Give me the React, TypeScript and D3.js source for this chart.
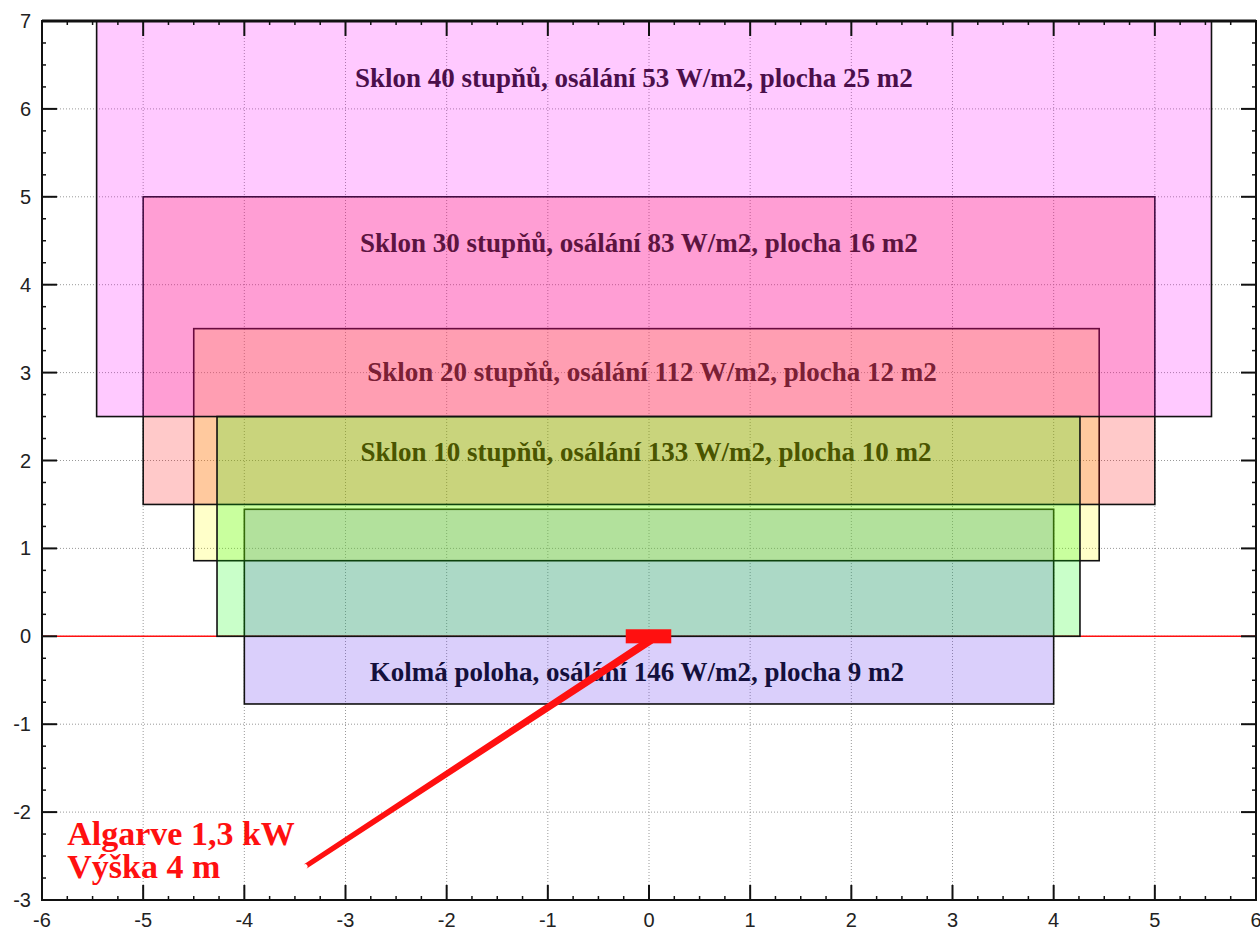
import React from "react";
import * as d3 from "d3";

// ---- data ----
const labels = [
  "Sklon 40 stupňů, osálání 53 W/m2, plocha 25 m2",
  "Sklon 30 stupňů, osálání 83 W/m2, plocha 16 m2",
  "Sklon 20 stupňů, osálání 112 W/m2, plocha 12 m2",
  "Sklon 10 stupňů, osálání 133 W/m2, plocha 10 m2",
  "Kolmá poloha, osálání 146 W/m2, plocha 9 m2",
];
const xMin = [-5.46, -5, -4.5, -4.27, -4];
const xMax = [5.56, 5, 4.45, 4.26, 4];
const yMin = [2.5, 1.5, 0.86, 0, -0.77];
const yMax = [7, 5, 3.5, 2.5, 1.445];
const labelX = [-0.15, -0.1, 0.03, -0.03, -0.12];
const labelY = [6.25, 4.37, 2.91, 1.99, -0.51];
const drawOrder = [4, 2, 1, 0, 3];

const xTicks = [-6, -5, -4, -3, -2, -1, 0, 1, 2, 3, 4, 5, 6];
const yTicks = [-3, -2, -1, 0, 1, 2, 3, 4, 5, 6, 7];

const markerX = [-0.23, 0.22];
const markerY = [-0.08, 0.08];
const arrowFrom = [0.02, -0.04];
const arrowTo = [-3.4, -2.62];
const noteLines = ["Algarve 1,3 kW", "Výška 4 m"];
const noteX = -5.75;
const noteY = [-2.374, -2.75];

// ---- styles ----
const fills = ["#ff00ff", "#ff0000", "#ffff00", "#00ff00", "#6a40f0"];
const fillOpacity = [0.21, 0.21, 0.21, 0.21, 0.25];
const textColors = ["#4b0f4b", "#5c1440", "#7a2035", "#4a5500", "#14103c"];

export default function App() {
  const W = 1260;
  const H = 929;
  const x = d3.scaleLinear().domain([-6, 6]).range([42, 1256]);
  const y = d3.scaleLinear().domain([-3, 7]).range([900, 21]);
  const [x0, x1] = x.range();
  const [y0, y1] = y.range();

  const minorX = d3.range(-6, 6.001, 0.25).filter((v) => Math.abs(v - Math.round(v)) > 1e-6);
  const minorY = d3.range(-3, 7.001, 0.25).filter((v) => Math.abs(v - Math.round(v)) > 1e-6);

  const major = 15;
  const minor = 4;

  const ax = x(arrowFrom[0]);
  const ay = y(arrowFrom[1]);
  const bx = x(arrowTo[0]);
  const by = y(arrowTo[1]);
  const len = Math.hypot(bx - ax, by - ay);
  const nx = -(by - ay) / len;
  const ny = (bx - ax) / len;
  const w0 = 4;
  const w1 = 2.5;
  const arrowPath = d3.path();
  arrowPath.moveTo(ax + nx * w0, ay + ny * w0);
  arrowPath.lineTo(bx + nx * w1, by + ny * w1);
  arrowPath.arc(bx, by, w1, Math.atan2(ny, nx), Math.atan2(-ny, -nx), false);
  arrowPath.lineTo(ax - nx * w0, ay - ny * w0);
  arrowPath.closePath();

  return (
    <svg
      width={W}
      height={H}
      style={{ position: "absolute", left: 0, top: 0, background: "#fff" }}
      fontFamily="'Liberation Sans', Arial, sans-serif"
    >
      <rect x={0} y={0} width={W} height={H} fill="#fff" />
      {/* grid */}
      <g stroke="#999" strokeWidth={1} strokeDasharray="1,2">
        {xTicks.slice(1, -1).map((t) => (
          <line key={"gx" + t} x1={x(t)} x2={x(t)} y1={y0} y2={y1} />
        ))}
        {yTicks.slice(1, -1).map((t) => (
          <line key={"gy" + t} x1={x0} x2={x1} y1={y(t)} y2={y(t)} />
        ))}
      </g>
      {/* zero line */}
      <line x1={x0} x2={x1} y1={y(0)} y2={y(0)} stroke="#ff1010" strokeWidth={1.5} />
      {/* rectangles */}
      {drawOrder.map((i) => (
        <rect
          key={"r" + i}
          x={x(xMin[i])}
          y={y(yMax[i])}
          width={x(xMax[i]) - x(xMin[i])}
          height={y(yMin[i]) - y(yMax[i])}
          fill={fills[i]}
          fillOpacity={fillOpacity[i]}
          stroke="#111"
          strokeWidth={1.6}
        />
      ))}
      {/* labels */}
      {labels.map((l, i) => (
        <text
          key={"l" + i}
          x={x(labelX[i])}
          y={y(labelY[i])}
          textAnchor="middle"
          fontFamily="'Liberation Serif', 'Times New Roman', serif"
          fontWeight="bold"
          fontSize={27}
          fill={textColors[i]}
        >
          {l}
        </text>
      ))}
      {/* red marker and arrow */}
      <path d={arrowPath.toString()} fill="#ff1010" />
      <rect
        x={x(markerX[0])}
        y={y(markerY[1])}
        width={x(markerX[1]) - x(markerX[0])}
        height={y(markerY[0]) - y(markerY[1])}
        fill="#ff1010"
      />
      {noteLines.map((t, i) => (
        <text
          key={"n" + i}
          x={x(noteX)}
          y={y(noteY[i])}
          fontFamily="'Liberation Serif', 'Times New Roman', serif"
          fontWeight="bold"
          fontSize={34}
          fill="#ff1010"
        >
          {t}
        </text>
      ))}
      {/* frame */}
      <rect x={x0} y={y1} width={x1 - x0} height={y0 - y1} fill="none" stroke="#111" strokeWidth={2} />
      <line x1={x0} x2={x1} y1={y1} y2={y1} stroke="#111" strokeWidth={3} />
      {/* ticks */}
      <g stroke="#111" strokeWidth={2}>
        {xTicks.map((t) => (
          <g key={"tx" + t}>
            <line x1={x(t)} x2={x(t)} y1={y0} y2={y0 - major} />
            <line x1={x(t)} x2={x(t)} y1={y1} y2={y1 + major} />
          </g>
        ))}
        {yTicks.map((t) => (
          <g key={"ty" + t}>
            <line x1={x0} x2={x0 + major} y1={y(t)} y2={y(t)} />
            <line x1={x1} x2={x1 - major} y1={y(t)} y2={y(t)} />
          </g>
        ))}
      </g>
      <g stroke="#111" strokeWidth={1.5}>
        {minorX.map((t) => (
          <g key={"mx" + t}>
            <line x1={x(t)} x2={x(t)} y1={y0} y2={y0 - minor} />
            <line x1={x(t)} x2={x(t)} y1={y1} y2={y1 + minor} />
          </g>
        ))}
        {minorY.map((t) => (
          <g key={"my" + t}>
            <line x1={x0} x2={x0 + minor} y1={y(t)} y2={y(t)} />
            <line x1={x1} x2={x1 - minor} y1={y(t)} y2={y(t)} />
          </g>
        ))}
      </g>
      {/* tick labels */}
      <g fontSize={20} fill="#222">
        {xTicks.map((t) => (
          <text key={"xl" + t} x={x(t)} y={y0 + 27} textAnchor="middle">
            {t}
          </text>
        ))}
        {yTicks.map((t) => (
          <text key={"yl" + t} x={x0 - 11} y={y(t) + 7} textAnchor="end">
            {t}
          </text>
        ))}
      </g>
    </svg>
  );
}
